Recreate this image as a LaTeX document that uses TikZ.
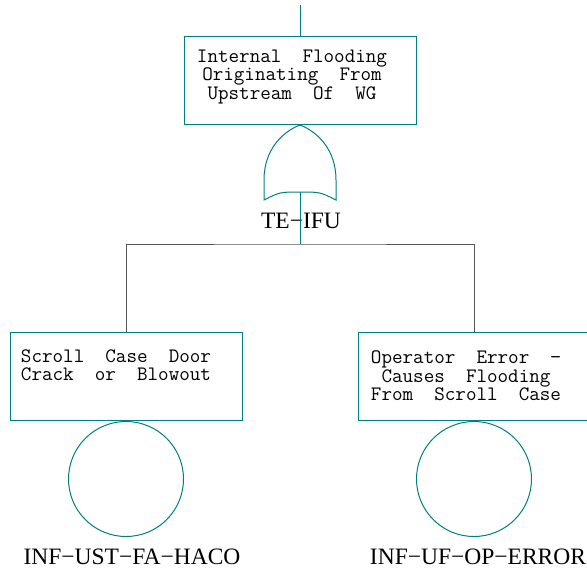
\documentclass[tikz,border=0pt]{standalone}
\usepackage{fontspec}
\newfontfamily\lblfont{Liberation Serif}
\usetikzlibrary{positioning}
\definecolor{ftteal}{RGB}{0,128,128}
\definecolor{ftgray}{RGB}{85,85,85}

\begin{document}
\begin{tikzpicture}[x=1pt, y=-1pt, line width=1pt,
      ev/.style={draw=ftteal, minimum width=232pt, minimum height=88pt, inner sep=0pt},
      evtxt/.style={align=center, font=\ttfamily\fontsize{20.5}{18.5}\selectfont, inner sep=0pt},
      bas/.style={draw=ftteal, circle, minimum size=115pt, inner sep=0pt},
      lbl/.style={font=\lblfont\fontsize{23.5}{24}\selectfont, inner sep=0pt},
      tl/.style={draw=ftteal}, gl/.style={draw=ftgray}]
      \useasboundingbox (0,0) rectangle (587,571);
      \coordinate (in) at (300,5);
      \node[ev] (top) at (300,80) {};
      \node[evtxt] (toptxt) at (292,77) {Internal~~Flooding\\Originating~~From\\Upstream~~Of~~WG};
      % OR gate
      \coordinate (gtop) at (300,125);
      \coordinate (gout) at (300,192);
      \draw[ftteal] (gtop) .. controls (282,132) and (264,150) .. (264,180) -- (264,200)
        .. controls (280,192) .. (300,192) .. controls (320,192) .. (336,200) -- (336,180)
        .. controls (336,150) and (318,132) .. (gtop);
      \node[lbl] (gname) at (301,221) {TE−IFU};
      \coordinate (bar) at (300,244);
      \node[ev] (l) at (126,376.5) {};
      \node[evtxt] (ltxt) at (116,365) {Scroll~~Case~~Door\\Crack~~or~~Blowout};
      \node[ev] (r) at (474,376.5) {};
      \node[evtxt] (rtxt) at (466,376) {Operator~~Error~~−\\Causes~~Flooding\\From~~Scroll~~Case};
      \node[bas, below=0pt of l] (lb) {};
      \node[bas, below=0pt of r] (rb) {};
      \node[lbl] (lname) at (132,557) {INF−UST−FA−HACO};
      \node[lbl] (rname) at (478,557) {INF−UF−OP−ERROR};
      \draw[tl] (in) -- (top.north);
      \draw[tl] (top.south) -- (gtop);
      \draw[tl] (gout) -- (bar);
      \draw[gl] (l.north) |- (bar) -| (r.north);
    \end{tikzpicture}
\end{document}
